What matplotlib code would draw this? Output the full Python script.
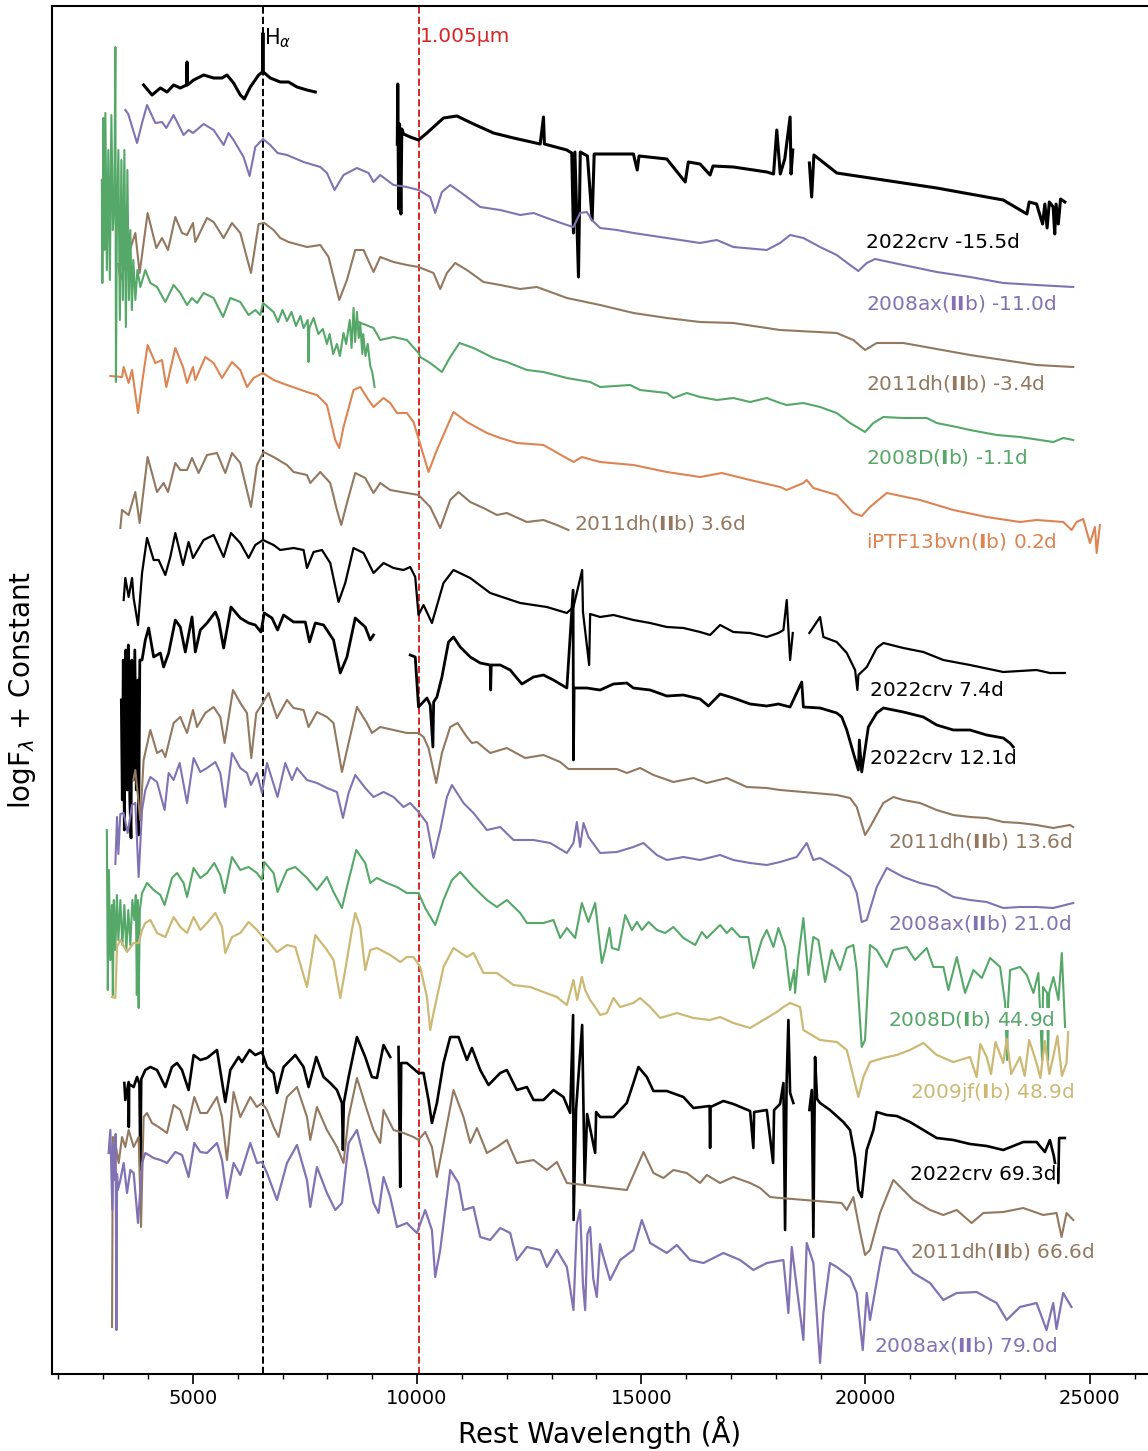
import numpy as np
import matplotlib
matplotlib.use("Agg")
import matplotlib.pyplot as plt

nan = float("nan")

# Each spectrum: (rest wavelength [A], log F_lambda + constant) pairs; nan marks a gap.
crv_m155 = [
    (3903, 1289), (4091, 1279), (4276, 1286), (4425, 1282), (4572, 1289), (4721, 1286), (4860, 1289),
    (4871, 1312), (4882, 1289), (5018, 1294), (5241, 1299), (5464, 1296), (5651, 1296), (5762, 1299),
    (5909, 1291), (6059, 1279), (6148, 1275), (6282, 1287), (6467, 1299), (6555, 1302), (6563, 1341),
    (6571, 1302), (6727, 1296), (6950, 1292), (7135, 1292), (7323, 1287), (7545, 1284), (7731, 1282),
    (8600, nan),
    (9560, 1230), (9570, 1290), (9590, 1165), (9610, 1250), (9640, 1160), (9660, 1245), (9700, 1240),
    (9848, 1237), (10033, 1234), (10221, 1241), (10590, 1256), (10889, 1258), (11259, 1250), (11705, 1241),
    (12151, 1236), (12746, 1230), (12820, 1257), (12840, 1230), (13341, 1224), (13450, 1221), (13488, 1141),
    (13520, 1222), (13600, 1097), (13640, 1222), (13800, 1218), (13905, 1154), (13950, 1220), (14083, 1220),
    (14825, 1220), (14910, 1204), (14950, 1218), (15570, 1215), (15980, 1192),
    (16050, 1212), (16312, 1210), (16535, 1199), (16600, 1208), (17054, 1207), (17799, 1202), (17950, 1200),
    (18022, 1244), (18100, 1200), (18200, 1215), (18319, 1257), (18340, 1200), (18379, 1224),
    (18560, nan),
    (18749, 1211), (18800, 1177), (18850, 1219), (19360, 1201), (20102, 1196), (20844, 1191), (21588, 1186),
    (22329, 1180), (23072, 1174), (23600, 1160), (23650, 1172), (23815, 1170), (23950, 1150), (24000, 1170),
    (24050, 1146), (24100, 1172), (24185, 1167), (24220, 1140), (24250, 1170), (24300, 1150), (24350, 1175),
    (24446, 1172),
]

sn08ax_m110 = [
    (3495, 1264), (3560, 1260), (3756, 1231), (3868, 1251), (3979, 1269), (4164, 1251), (4313, 1252),
    (4409, 1246), (4572, 1259), (4795, 1239), (4906, 1244), (5004, 1241), (5241, 1250), (5464, 1244),
    (5687, 1229), (5798, 1241), (5909, 1234), (6132, 1217), (6266, 1198), (6393, 1227), (6565, 1235),
    (6727, 1229), (6890, 1221), (7100, 1219), (7470, 1212), (7842, 1207), (7991, 1201), (8161, 1184),
    (8361, 1199), (8660, 1206), (8919, 1201), (9030, 1192), (9179, 1199), (9476, 1189), (9774, 1187),
    (10033, 1184), (10294, 1177), (10405, 1161), (10555, 1182), (10740, 1189), (10963, 1182), (11409, 1167),
    (11855, 1164), (12300, 1159), (12597, 1161), (12895, 1156), (13341, 1149), (13488, 1147), (13637, 1161),
    (13787, 1162), (13898, 1154), (14083, 1146), (14455, 1144), (14825, 1141), (15570, 1136), (16312, 1131),
    (16684, 1134), (17054, 1127), (17799, 1124), (18095, 1131), (18319, 1139), (18615, 1136), (18987, 1127),
    (19359, 1119), (19656, 1109), (19841, 1103), (20028, 1111), (20213, 1115), (20844, 1109), (21588, 1102),
    (22331, 1097), (23072, 1091), (23815, 1089), (24633, 1087),
]

sn11dh_m34 = [
    (3340, 1110), (3384, 1094), (3718, 1141), (3814, 1101), (3992, 1161), (4186, 1126), (4313, 1136),
    (4447, 1124), (4610, 1157), (4759, 1141), (4871, 1139), (5004, 1151), (5056, 1132), (5317, 1156),
    (5464, 1152), (5687, 1136), (5874, 1151), (6059, 1141), (6297, 1101), (6467, 1150), (6594, 1151),
    (6801, 1144), (6950, 1136), (7135, 1132), (7546, 1127), (7842, 1129), (8027, 1117), (8265, 1074),
    (8437, 1094), (8622, 1124), (8807, 1124), (9030, 1102), (9179, 1117), (9476, 1112), (9774, 1109),
    (10033, 1107), (10367, 1101), (10517, 1085), (10666, 1101), (10851, 1111), (11112, 1104), (11482, 1092),
    (11855, 1089), (12300, 1085), (12672, 1087), (13341, 1076), (14083, 1069), (14825, 1061), (15570, 1056),
    (16312, 1052), (17054, 1051), (18095, 1044), (19359, 1041), (19729, 1034), (19990, 1024), (20251, 1031),
    (20844, 1031), (21588, 1025), (22331, 1019), (23072, 1014), (23815, 1009), (24633, 1007),
]

sn08D_m11 = [
    (2972, 1194), (2983, 1091), (3005, 1256), (3028, 1124), (3050, 1261), (3083, 1104), (3117, 1224),
    (3150, 1094), (3184, 1259), (3217, 1144), (3250, 1174), (3273, 1327), (3286, 992), (3306, 1144),
    (3340, 1224), (3373, 1054), (3407, 1214), (3440, 1074), (3474, 1224), (3507, 1047), (3541, 1204),
    (3574, 1074), (3607, 1144), (3641, 1064), (3674, 1114), (3719, 1074), (3764, 1104), (3830, 1087),
    (3941, 1104), (4053, 1091), (4202, 1087), (4387, 1072), (4572, 1089), (4721, 1081), (4871, 1069),
    (4982, 1076), (5094, 1071), (5241, 1081), (5464, 1076), (5673, 1057), (5836, 1076), (6059, 1072),
    (6244, 1059), (6393, 1064), (6505, 1059), (6565, 1071), (6801, 1062), (6900, 1052), (7000, 1064),
    (7100, 1053), (7200, 1062), (7300, 1048), (7400, 1058), (7470, 1046), (7563, 1054), (7581, 1012),
    (7597, 1046), (7693, 1056), (7800, 1040), (7900, 1045), (7991, 1030), (8050, 1040), (8130, 1020),
    (8214, 1030), (8280, 1018), (8361, 1041), (8420, 1030), (8500, 1054), (8540, 1026), (8584, 1066),
    (8620, 1032), (8660, 1062), (8700, 1036), (8734, 1050), (8780, 1020), (8800, 1040), (8850, 1018),
    (8900, 1030), (8957, 1008), (9000, 1002), (9030, 994), (9052, 987),
    (9060, nan),
    (8696, 1052), (9030, 1046), (9179, 1034), (9476, 1037), (9774, 1034), (10033, 1021), (10071, 1017),
    (10294, 1011), (10555, 1002), (10740, 1017), (10947, 1031), (11259, 1026), (11705, 1016), (12003, 1012),
    (12449, 1004), (12819, 1002), (13341, 996), (13860, 992), (14083, 987), (14752, 989), (14975, 984),
    (15570, 981), (15717, 976), (16016, 981), (16312, 977), (16684, 974), (17054, 976), (17427, 972),
    (17799, 976), (18095, 971), (18244, 969), (18615, 971), (18987, 967), (19359, 961), (19656, 951),
    (19990, 942), (20175, 951), (20398, 957), (20844, 956), (21366, 956), (21588, 951), (22034, 947),
    (22331, 944), (22926, 939), (23446, 937), (24188, 932), (24411, 936), (24633, 934),
]

ptf13bvn_p02 = [
    (3161, 998), (3422, 997), (3458, 1007), (3569, 991), (3645, 1004), (3778, 961), (3868, 991),
    (3992, 1029), (4164, 1011), (4313, 1014), (4409, 987), (4610, 1026), (4782, 1007), (4871, 991),
    (5004, 1007), (5056, 994), (5279, 1017), (5464, 1011), (5651, 996), (5874, 1012), (6059, 1004),
    (6208, 987), (6355, 996), (6565, 1001), (6801, 994), (7100, 989), (7546, 982), (7768, 979),
    (7991, 969), (8176, 934), (8265, 926), (8361, 947), (8584, 984), (8734, 987), (8919, 974),
    (9030, 967), (9253, 976), (9402, 971), (9552, 961), (9774, 961), (9922, 952), (10109, 924),
    (10256, 902), (10443, 924), (10813, 962), (11112, 952), (11558, 941), (11855, 936), (12227, 931),
    (12819, 929), (13488, 912), (13675, 917), (14083, 912), (14825, 909), (15570, 902), (16312, 897),
    (16796, 901), (17427, 894), (18095, 887), (18244, 884), (18615, 891), (18690, 894), (18838, 886),
    (19359, 879), (19729, 861), (19916, 858), (20101, 867), (20474, 881), (21216, 874), (21958, 864),
    (22702, 857), (23445, 852), (23817, 854), (24410, 852), (24597, 844), (24708, 852), (24856, 855),
    (25006, 831), (25117, 847), (25155, 821), (25228, 849),
]

sn11dh_p36 = [
    (3384, 846), (3422, 864), (3569, 859), (3718, 882), (3814, 851), (3992, 917), (4202, 882),
    (4349, 891), (4447, 882), (4610, 911), (4721, 904), (4871, 904), (4982, 916), (5129, 901),
    (5317, 919), (5539, 921), (5724, 901), (5874, 921), (6059, 911), (6297, 867), (6431, 909),
    (6578, 922), (6801, 917), (7100, 909), (7247, 902), (7546, 899), (7619, 891), (7842, 902),
    (8065, 891), (8214, 864), (8310, 849), (8437, 871), (8622, 901), (8845, 896), (9030, 881),
    (9179, 891), (9402, 884), (9774, 881), (10033, 879), (10294, 867), (10517, 846), (10740, 874),
    (10925, 882), (11186, 872), (11482, 866), (11781, 859), (12003, 861), (12449, 852), (12819, 854),
    (13118, 849), (13377, 844),
]

crv_p74 = [
    (3458, 774), (3495, 796), (3569, 777), (3645, 796), (3680, 776), (3778, 749), (3868, 801),
    (3979, 836), (4127, 814), (4238, 814), (4387, 799), (4498, 817), (4610, 841), (4782, 809),
    (4906, 832), (5004, 816), (5241, 834), (5464, 839), (5687, 817), (5851, 841), (6059, 831),
    (6244, 816), (6393, 829), (6565, 834), (6801, 829), (6950, 824), (7247, 826), (7470, 824),
    (7546, 806), (7693, 822), (7880, 824), (8065, 811), (8250, 772), (8399, 791), (8584, 826),
    (8807, 821), (9030, 801), (9253, 811), (9476, 806), (9699, 804), (9848, 807), (9960, 797),
    (10033, 759), (10145, 769), (10332, 751), (10590, 791), (10813, 804), (11186, 796), (11631, 781),
    (12300, 771), (12895, 767), (13341, 761), (13488, 767), (13682, 804), (13700, 762), (13838, 709),
    (13860, 760), (14083, 757), (14380, 759), (14825, 754), (15198, 751), (15570, 747), (15940, 746),
    (16312, 742), (16535, 739), (16758, 749), (17054, 742), (17427, 741), (17799, 737), (18058, 741),
    (18170, 744), (18244, 774), (18319, 714), (18379, 741),
    (18560, nan),
    (18749, 741), (18987, 757), (19061, 737), (19360, 732), (19583, 721), (19768, 704), (19820, 684),
    (19842, 699), (20029, 707), (20251, 726), (20400, 731), (20844, 726), (21290, 722), (21736, 714),
    (22331, 709), (23072, 702), (23815, 704), (24112, 701), (24446, 701),
]

crv_p121 = [
    (3406, 674), (3428, 574), (3450, 714), (3473, 544), (3506, 724), (3539, 584), (3562, 729),
    (3595, 574), (3622, 536), (3640, 714), (3674, 594), (3707, 724), (3740, 584), (3774, 694),
    (3792, 539), (3818, 714), (3868, 714), (3941, 734), (4015, 746), (4127, 717), (4276, 721),
    (4349, 707), (4461, 721), (4610, 754), (4721, 747), (4833, 722), (4982, 757), (5056, 722),
    (5167, 744), (5317, 751), (5502, 762), (5575, 754), (5687, 726), (5851, 767), (6059, 756),
    (6244, 751), (6393, 749), (6520, 742), (6594, 761), (6765, 756), (6890, 744), (7024, 759),
    (7247, 752), (7508, 752), (7603, 732), (7731, 751), (7916, 749), (8138, 734), (8288, 701),
    (8437, 717), (8622, 756), (8845, 747), (8957, 734), (9030, 739),
    (9400, nan),
    (9848, 719), (9960, 717), (10033, 667), (10221, 676), (10294, 669), (10354, 627), (10370, 672),
    (10443, 677), (10555, 697), (10702, 732), (10813, 737), (10963, 727), (11186, 717), (11409, 711),
    (11631, 709), (11642, 684), (11655, 709), (11855, 709), (12077, 704), (12338, 690), (12597, 697),
    (12820, 699), (13042, 694), (13341, 686), (13480, 784), (13488, 614), (13503, 686), (13787, 686),
    (14083, 684), (14380, 690), (14678, 691), (14825, 686), (15198, 684), (15570, 678), (15940, 679),
    (16312, 675), (16497, 668), (16758, 680), (17054, 676), (17427, 670), (17799, 668), (18058, 670),
    (18319, 667), (18579, 692), (18615, 667), (18987, 666), (19360, 661), (19471, 657), (19583, 644),
    (19730, 621), (19841, 604), (19863, 634), (19916, 602), (20064, 647), (20251, 661), (20400, 666),
    (20844, 662), (21290, 657), (21588, 649), (21959, 644), (22331, 644), (22702, 639), (23072, 636),
    (23221, 631), (23296, 627),
]

sn11dh_p136 = [
    (3674, 594), (3718, 604), (3830, 554), (3903, 614), (4053, 644), (4202, 621), (4313, 624),
    (4387, 617), (4572, 651), (4721, 657), (4871, 641), (5004, 664), (5094, 647), (5279, 661),
    (5464, 667), (5613, 657), (5709, 631), (5896, 684), (6059, 671), (6208, 661), (6304, 616),
    (6415, 661), (6505, 667), (6690, 681), (6877, 656), (7100, 674), (7247, 666), (7470, 664),
    (7581, 647), (7768, 662), (7991, 657), (8138, 651), (8326, 602), (8474, 631), (8660, 667),
    (8883, 651), (8994, 641), (9179, 647), (9476, 644), (9774, 641), (10033, 641), (10145, 637),
    (10256, 626), (10428, 591), (10555, 621), (10740, 647), (10903, 651), (11112, 637), (11224, 631),
    (11335, 632), (11631, 621), (12003, 626), (12411, 616), (12820, 619), (13192, 612), (13377, 605),
    (14455, 605), (14678, 601), (14975, 606), (15272, 599), (15717, 592), (16163, 596), (16461, 591),
    (16907, 596), (17353, 587), (17799, 586), (18095, 584), (18615, 582), (19360, 579), (19656, 576),
    (19805, 567), (19990, 539), (20101, 547), (20398, 571), (20621, 577), (20844, 574), (21216, 571),
    (21588, 564), (21959, 559), (22331, 557), (22702, 556), (23072, 552), (23445, 551), (23815, 549),
    (24186, 546), (24558, 549), (24633, 547),
]

sn08ax_p210 = [
    (3273, 510), (3310, 557), (3340, 520), (3384, 560), (3458, 561), (3547, 541), (3645, 569),
    (3718, 571), (3792, 497), (3868, 564), (3941, 584), (4053, 597), (4202, 592), (4371, 564),
    (4461, 601), (4572, 594), (4706, 611), (4871, 571), (5018, 616), (5167, 602), (5317, 606),
    (5502, 612), (5613, 601), (5724, 567), (5874, 621), (6059, 606), (6208, 601), (6297, 589),
    (6431, 601), (6542, 581), (6654, 611), (6890, 577), (7062, 611), (7211, 594), (7323, 606),
    (7546, 594), (7768, 591), (7991, 586), (8214, 582), (8348, 556), (8473, 581), (8622, 599),
    (8845, 586), (9030, 577), (9253, 582), (9476, 577), (9699, 567), (9848, 571), (10033, 562),
    (10221, 551), (10367, 516), (10517, 544), (10666, 577), (10778, 589), (11036, 571), (11259, 561),
    (11558, 544), (11855, 547), (12151, 534), (12597, 534), (12969, 531), (13341, 521), (13488, 531),
    (13564, 552), (13637, 527), (13711, 551), (13822, 537), (14083, 521), (14455, 522), (14825, 527),
    (15048, 531), (15346, 519), (15570, 514), (15940, 517), (16312, 514), (16758, 519), (17054, 514),
    (17427, 511), (17799, 509), (18095, 512), (18244, 514), (18467, 517), (18690, 531), (18838, 514),
    (18987, 516), (19360, 506), (19656, 497), (19805, 481), (19916, 452), (20029, 454), (20251, 487),
    (20474, 506), (20844, 497), (21216, 491), (21588, 487), (21959, 477), (22331, 474), (22702, 472),
    (23072, 466), (23445, 467), (23815, 467), (24186, 466), (24633, 471),
]

sn08D_p449 = [
    (3083, 544), (3105, 384), (3128, 504), (3161, 414), (3195, 469), (3217, 379), (3239, 474),
    (3273, 424), (3306, 479), (3340, 434), (3384, 474), (3429, 429), (3473, 469), (3518, 424),
    (3562, 464), (3607, 429), (3652, 474), (3696, 454), (3729, 479), (3752, 379), (3774, 474),
    (3792, 366), (3819, 464), (3868, 481), (3979, 491), (4127, 484), (4276, 479), (4371, 469),
    (4536, 496), (4648, 501), (4795, 491), (4871, 477), (5018, 506), (5167, 496), (5317, 501),
    (5479, 511), (5613, 499), (5709, 481), (5874, 517), (6059, 504), (6244, 507), (6431, 501),
    (6542, 494), (6594, 512), (6801, 501), (6890, 482), (7100, 504), (7285, 507), (7546, 496),
    (7768, 484), (7991, 497), (8138, 482), (8326, 466), (8437, 487), (8644, 524), (8845, 511),
    (8957, 491), (9106, 496), (9329, 491), (9552, 487), (9774, 481), (10033, 481), (10182, 466),
    (10405, 449), (10590, 474), (10778, 494), (10963, 502), (11259, 487), (11558, 474), (11781, 467),
    (12003, 474), (12300, 461), (12449, 451), (12820, 451), (13042, 454), (13192, 436), (13341, 446),
    (13526, 436), (13675, 471), (13822, 452), (13972, 471), (14121, 411), (14195, 424), (14291, 446),
    (14345, 426), (14494, 424), (14643, 459), (14792, 444), (14903, 452), (15015, 444), (15163, 452),
    (15350, 444), (15532, 441), (15718, 447), (15941, 436), (16202, 429), (16350, 442), (16462, 436),
    (16758, 449), (16907, 441), (17018, 446), (17203, 437), (17389, 437), (17500, 406), (17688, 434),
    (17799, 444), (17948, 427), (18059, 446), (18207, 427), (18319, 384), (18408, 404), (18430, 381),
    (18504, 417), (18615, 456), (18727, 399), (18838, 437), (18950, 434), (19099, 392), (19248, 424),
    (19433, 404), (19582, 426), (19730, 429), (19805, 404), (19916, 327), (19990, 334), (20101, 429),
    (20250, 424), (20473, 407), (20621, 424), (20919, 427), (21104, 414), (21365, 426), (21514, 407),
    (21737, 407), (21849, 384), (22036, 417), (22221, 381), (22407, 404), (22594, 396), (22779, 416),
    (23002, 407), (23113, 371), (23158, 314), (23180, 371), (23225, 404), (23448, 407), (23597, 399),
    (23745, 381), (23856, 401), (23938, 314), (23960, 387), (24050, 381), (24072, 314), (24095, 381),
    (24191, 397), (24303, 374), (24378, 421), (24451, 347),
]

sn09jf_p489 = [
    (3199, 377), (3273, 376), (3310, 427), (3384, 434), (3533, 422), (3681, 431), (3792, 431),
    (3868, 444), (3941, 451), (4053, 454), (4202, 441), (4387, 437), (4572, 457), (4721, 447),
    (4871, 441), (5018, 457), (5167, 444), (5317, 451), (5502, 461), (5651, 447), (5724, 421),
    (5874, 437), (6059, 441), (6244, 452), (6431, 444), (6565, 437), (6654, 434), (6877, 422),
    (7100, 429), (7285, 427), (7546, 387), (7731, 439), (7991, 424), (8138, 414), (8288, 376),
    (8399, 404), (8548, 444), (8622, 461), (8734, 447), (8845, 404), (8957, 424), (9106, 426),
    (9402, 419), (9625, 412), (9774, 417), (9922, 417), (10071, 407), (10221, 377), (10294, 344),
    (10368, 361), (10590, 407), (10813, 426), (11112, 417), (11259, 421), (11482, 401), (11781, 401),
    (12151, 389), (12523, 387), (12820, 382), (13118, 377), (13341, 369), (13488, 394), (13570, 374),
    (13675, 397), (13749, 384), (13860, 374), (14000, 365), (14083, 359), (14232, 361), (14380, 376),
    (14529, 367), (14825, 371), (14975, 376), (15198, 367), (15421, 356), (15793, 361), (16163, 356),
    (16535, 354), (16758, 357), (17054, 351), (17427, 346), (17650, 352), (18022, 362), (18170, 367),
    (18319, 371), (18541, 367), (18615, 344), (18987, 334), (19360, 332), (19583, 324), (19694, 304),
    (19841, 277), (19953, 297), (20101, 312), (20398, 316), (20695, 319), (20992, 324), (21290, 331),
    (21588, 319), (21959, 312), (22331, 317), (22479, 297), (22560, 330), (22702, 317), (22800, 300),
    (22900, 332), (23072, 311), (23150, 335), (23250, 300), (23445, 317), (23550, 298), (23650, 334),
    (23815, 311), (23900, 296), (24000, 333), (24100, 300), (24186, 317), (24280, 338), (24380, 298),
    (24483, 311), (24520, 342),
]

crv_p693 = [
    (3473, 291), (3495, 274), (3569, 292), (3573, 247), (3580, 290), (3681, 287), (3756, 297),
    (3810, 290), (3830, 204), (3850, 295), (3941, 304), (4053, 307), (4202, 304), (4387, 287),
    (4535, 307), (4647, 311), (4759, 304), (4906, 284), (5018, 319), (5167, 314), (5317, 316),
    (5539, 324), (5724, 272), (5836, 304), (6021, 317), (6097, 312), (6266, 324), (6393, 319),
    (6542, 322), (6654, 307), (6801, 301), (6877, 281), (7024, 307), (7285, 319), (7470, 307),
    (7581, 287), (7753, 317), (7916, 297), (8065, 291), (8214, 284), (8326, 271), (8348, 224),
    (8366, 271), (8474, 297), (8660, 337), (8845, 317), (8994, 297), (9106, 296), (9253, 329),
    (9402, 317),
    (9500, nan),
    (9587, 327), (9625, 187), (9647, 311), (9774, 311), (10033, 301), (10145, 301), (10256, 274),
    (10332, 251), (10443, 271), (10590, 311), (10740, 337), (10925, 337), (11112, 314), (11224, 326),
    (11409, 304), (11594, 289), (11855, 301), (12003, 304), (12226, 284), (12449, 287), (12597, 274),
    (12820, 274), (13042, 284), (13265, 277), (13414, 261), (13480, 359), (13491, 154), (13547, 265),
    (13682, 349), (13738, 191), (13793, 260), (13972, 221), (13994, 262), (14083, 257), (14380, 257),
    (14677, 271), (14825, 291), (14937, 307), (15124, 297), (15272, 283), (15570, 283), (15940, 277),
    (16163, 266), (16524, 268), (16535, 226), (16546, 267), (16831, 273), (17054, 270), (17427, 263),
    (17500, 226), (17517, 262), (17799, 264), (17940, 211), (17962, 264), (18095, 270), (18170, 291),
    (18207, 144), (18241, 291), (18281, 354), (18319, 281), (18392, 271),
    (18560, nan),
    (18749, 264), (18803, 284), (18838, 137), (18876, 317), (18920, 275), (18987, 271), (19209, 264),
    (19506, 252), (19656, 244), (19767, 217), (19841, 184), (19917, 177), (20028, 224), (20176, 244),
    (20251, 262), (20474, 259), (20697, 258), (20993, 252), (21290, 244), (21588, 236), (21959, 234),
    (22331, 230), (22702, 228), (23072, 224), (23518, 232), (23815, 232), (24000, 222), (24112, 234),
    (24200, 218), (24300, 191), (24318, 236), (24446, 236),
]

sn11dh_p666 = [
    (3199, 47), (3210, 180), (3217, 237), (3273, 231), (3347, 211), (3422, 237), (3495, 227),
    (3569, 244), (3681, 227), (3792, 237), (3845, 147), (3903, 257), (3979, 261), (4090, 251),
    (4238, 247), (4424, 241), (4572, 269), (4721, 264), (4871, 244), (5033, 277), (5167, 261),
    (5317, 261), (5539, 277), (5651, 257), (5762, 214), (5909, 282), (6059, 257), (6282, 277),
    (6431, 267), (6542, 271), (6654, 264), (6801, 247), (6913, 237), (7100, 277), (7323, 287),
    (7546, 257), (7619, 234), (7768, 267), (7991, 244), (8214, 227), (8361, 211), (8474, 257),
    (8660, 296), (8883, 264), (9030, 244), (9179, 231), (9253, 264), (9476, 244), (9699, 241),
    (9922, 237), (10033, 234), (10182, 242), (10332, 227), (10443, 197), (10590, 231), (10813, 284),
    (11036, 257), (11186, 231), (11335, 246), (11558, 221), (11781, 227), (12003, 234), (12226, 211),
    (12597, 214), (12895, 204), (13118, 212), (13341, 191), (14678, 184), (15050, 222), (15272, 201),
    (15495, 196), (15718, 204), (16015, 201), (16312, 191), (16461, 199), (16758, 191), (17054, 197),
    (17427, 191), (17650, 186), (17873, 177), (18095, 176), (19471, 171), (19583, 164), (19730, 177),
    (19879, 142), (19990, 119), (20101, 124), (20324, 161), (20621, 194), (20844, 184), (21067, 174),
    (21439, 164), (21736, 159), (22034, 164), (22368, 151), (22627, 161), (23072, 162), (23518, 166),
    (23963, 159), (24260, 161), (24372, 137), (24484, 161), (24633, 154),
]

sn08ax_p790 = [
    (3123, 221), (3161, 244), (3206, 164), (3230, 230), (3250, 194), (3280, 240), (3295, 44),
    (3310, 200), (3328, 184), (3384, 194), (3458, 211), (3533, 181), (3607, 204), (3681, 201),
    (3778, 151), (3868, 211), (3941, 221), (4127, 216), (4276, 214), (4424, 211), (4610, 222),
    (4759, 219), (4906, 197), (5033, 231), (5167, 222), (5317, 221), (5539, 231), (5651, 214),
    (5762, 176), (5909, 211), (6059, 199), (6282, 231), (6431, 211), (6542, 212), (6654, 201),
    (6877, 174), (7100, 211), (7323, 229), (7546, 194), (7619, 167), (7768, 207), (7991, 181),
    (8176, 164), (8326, 171), (8474, 231), (8660, 244), (8883, 204), (9030, 171), (9141, 161),
    (9253, 197), (9402, 177), (9552, 147), (9774, 151), (9997, 141), (10182, 164), (10332, 144),
    (10405, 97), (10517, 124), (10740, 204), (10925, 191), (11036, 164), (11259, 167), (11409, 137),
    (11631, 134), (11855, 146), (12077, 141), (12226, 114), (12449, 127), (12746, 124), (12895, 107),
    (13118, 124), (13341, 107), (13488, 64), (13564, 150), (13637, 164), (13700, 90), (13749, 64),
    (13800, 140), (13860, 147), (13930, 95), (14009, 77), (14080, 130), (14157, 117), (14306, 94),
    (14529, 114), (14825, 124), (15012, 154), (15198, 131), (15570, 121), (15793, 129), (16090, 114),
    (16387, 111), (16832, 121), (17203, 114), (17500, 104), (17799, 111), (18170, 114), (18281, 61),
    (18356, 127), (18615, 34), (18690, 131), (18838, 111), (18987, 11), (19061, 61), (19209, 111),
    (19360, 107), (19656, 97), (19805, 81), (19939, 24), (20028, 81), (20101, 54), (20324, 111),
    (20398, 127), (20695, 124), (20844, 114), (21067, 101), (21439, 91), (21736, 74), (22034, 81),
    (22479, 82), (22925, 71), (23148, 54), (23445, 67), (23815, 71), (24038, 44), (24186, 71),
    (24260, 45), (24408, 81), (24594, 67),
]

# seaborn "deep" palette colours per object
c_crv, c_08ax, c_11dh = "black", "#8172b3", "#937860"
c_08D, c_13bvn, c_09jf = "#55a868", "#dd8452", "#ccb974"

# (spectrum, colour, line width); noisier 2022crv spectra are drawn heavier
spectra = [
    (crv_m155, c_crv, 2.2), (sn08ax_m110, c_08ax, 1.5), (sn11dh_m34, c_11dh, 1.5),
    (ptf13bvn_p02, c_13bvn, 1.5), (sn08D_m11, c_08D, 1.5), (sn11dh_p36, c_11dh, 1.5),
    (crv_p74, c_crv, 1.6), (crv_p121, c_crv, 2.0), (sn11dh_p136, c_11dh, 1.5),
    (sn08ax_p210, c_08ax, 1.5), (sn08D_p449, c_08D, 1.5), (sn09jf_p489, c_09jf, 1.6),
    (crv_p693, c_crv, 1.9), (sn11dh_p666, c_11dh, 1.5), (sn08ax_p790, c_08ax, 1.6),
]

# label text, colour, anchor wavelength, anchor height
labels = [
    ("2022crv -15.5d", c_crv, 20012, 1131),
    ("2008ax($\\mathbf{II}$b) -11.0d", c_08ax, 20012, 1071),
    ("2011dh($\\mathbf{II}$b) -3.4d", c_11dh, 20012, 991),
    ("2008D($\\mathbf{I}$b) -1.1d", c_08D, 20012, 917),
    ("iPTF13bvn($\\mathbf{I}$b) 0.2d", c_13bvn, 20012, 833),
    ("2011dh($\\mathbf{II}$b) 3.6d", c_11dh, 13504, 851),
    ("2022crv 7.4d", c_crv, 20101, 684),
    ("2022crv 12.1d", c_crv, 20101, 615),
    ("2011dh($\\mathbf{II}$b) 13.6d", c_11dh, 20503, 532),
    ("2008ax($\\mathbf{II}$b) 21.0d", c_08ax, 20503, 450),
    ("2008D($\\mathbf{I}$b) 44.9d", c_08D, 20503, 355),
    ("2009jf($\\mathbf{I}$b) 48.9d", c_09jf, 20993, 281),
    ("2022crv 69.3d", c_crv, 20993, 200),
    ("2011dh($\\mathbf{II}$b) 66.6d", c_11dh, 20993, 123),
    ("2008ax($\\mathbf{II}$b) 79.0d", c_08ax, 20190, 28),
]

h_alpha = 6563.0
line_1005 = 10050.0

W, H = 1148, 1451
fig = plt.figure(figsize=(W / 100, H / 100), dpi=100)
ax = fig.add_axes([52 / W, 77 / H, 1 - 52 / W, (H - 6 - 77) / H])

for data, color, lw in spectra:
    arr = np.array(data, dtype=float)
    ax.plot(arr[:, 0], arr[:, 1], color=color, lw=lw)

ax.axvline(h_alpha, color="black", ls="--", lw=1.4, zorder=1)
ax.axvline(line_1005, color="#d62728", ls="--", lw=1.4, zorder=1)
ax.text(h_alpha + 20, 1336, "H$_{\\alpha}$", fontsize=15, color="black", ha="left", va="center")
ax.text(line_1005 + 10, 1337, "1.005\u03bcm", fontsize=14.5, color="#d62728", ha="left", va="center")

for text, color, x, y in labels:
    ax.text(x, y, text, color=color, fontsize=14.5, ha="left", va="center", zorder=5,
            bbox=dict(facecolor="white", edgecolor="none", pad=0.3))

ax.set_xlim(1860, 26300)
ax.set_ylim(0, 1368)
ax.set_yticks([])
ax.set_xticks([5000, 10000, 15000, 20000, 25000])
ax.set_xticks(np.arange(2000, 26001, 1000), minor=True)
ax.tick_params(axis="x", which="major", length=7, width=1.2, labelsize=14, direction="out")
ax.tick_params(axis="x", which="minor", length=3.5, width=1.0, direction="out")
for side in ("left", "bottom", "top"):
    ax.spines[side].set_linewidth(1.5)
ax.spines["right"].set_visible(False)

ax.set_xlabel("Rest Wavelength (\u00c5)", fontsize=20, labelpad=6)
ax.set_ylabel("logF$_{\\lambda}$ + Constant", fontsize=20, labelpad=10)

fig.savefig("out.png", dpi=100)
